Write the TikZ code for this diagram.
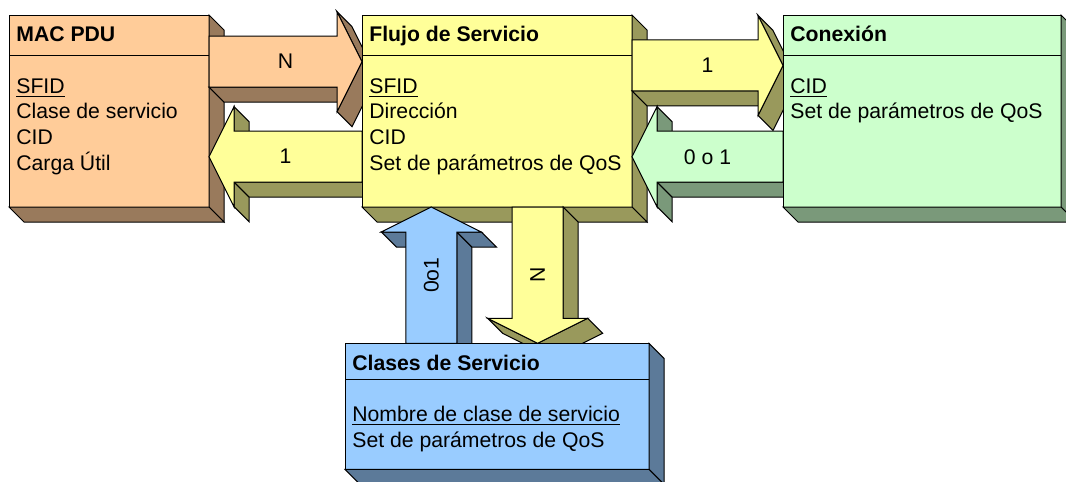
\documentclass[tikz,border=0pt]{standalone}
\usepackage{fontspec}
\setmainfont{Liberation Sans}
\usetikzlibrary{calc}

\definecolor{macfront}{HTML}{FFCC99}
\definecolor{macside}{HTML}{997A5C}
\definecolor{flowfront}{HTML}{FFFF99}
\definecolor{flowside}{HTML}{99995C}
\definecolor{connfront}{HTML}{CCFFCC}
\definecolor{connside}{HTML}{7A997A}
\definecolor{clsfront}{HTML}{99CCFF}
\definecolor{clsside}{HTML}{5C7A99}

\newcommand{\mainsize}{\fontsize{10.6}{12.8}\selectfont}

% box: node, front colour, side colour, header line
\newcommand{\solidbox}[4]{%
  \draw[face, fill=#2] (#1.north west) rectangle (#1.south east);
  \draw[face, fill=#3] (#1.north east) -- ++(15,15) -- ($(#1.south east)+(15,15)$) -- (#1.south east) -- cycle;
  \draw[face, fill=#3] (#1.south west) -- ++(15,15) -- ($(#1.south east)+(15,15)$) -- (#1.south east) -- cycle;
  \draw[face] ($(#1.north west)+(0,#4)$) -- ($(#1.north east)+(0,#4)$);
}
\newcommand{\boxtext}[3]{%
  \node[txt, font=\mainsize\bfseries] (#1-title) at ($(#1.north west)+(7,26.7)$) {#2};
  \foreach \s [count=\i] in {#3}
    \node[txt] (#1-\i) at ($(#1.north west)+(7,{78+25.7*(\i-1)})$) {\s};
}

% block arrows: tail, tip, front colour, side colour, label name, label
\newcommand{\blockright}[6]{%
  \coordinate (t) at (#1);
  \coordinate (h) at (#2);
  \draw[face, fill=#4] ($(t)+(0,25.5)$) -- ($(h)+(-25,25.5)$) -- ++(15,15) -- ($(t)+(15,40.5)$) -- cycle;
  \draw[face, fill=#4] ($(h)+(-25,-50)$) -- (h) -- ++(15,15) -- ($(h)+(-10,-35)$) -- cycle;
  \draw[face, fill=#4] (h) -- ($(h)+(-25,50)$) -- ++(15,15) -- ($(h)+(15,15)$) -- cycle;
  \draw[face, fill=#3] ($(t)+(0,-25.5)$) -- ($(h)+(-25,-25.5)$) -- ($(h)+(-25,-50)$) -- (h)
    -- ($(h)+(-25,50)$) -- ($(h)+(-25,25.5)$) -- ($(t)+(0,25.5)$) -- cycle;
  \node[lbl] (#5) at ($(t)!0.5!(h)$) {#6};
}
\newcommand{\blockleft}[6]{%
  \coordinate (t) at (#1);
  \coordinate (h) at (#2);
  \draw[face, fill=#4] ($(h)+(25,25.5)$) -- ($(t)+(0,25.5)$) -- ++(15,15) -- ($(h)+(40,40.5)$) -- cycle;
  \draw[face, fill=#4] ($(h)+(25,25.5)$) -- ($(h)+(25,50)$) -- ++(15,15) -- ($(h)+(40,40.5)$) -- cycle;
  \draw[face, fill=#4] ($(h)+(25,-50)$) -- ($(h)+(25,-25.5)$) -- ++(15,15) -- ($(h)+(40,-35)$) -- cycle;
  \draw[face, fill=#3] ($(t)+(0,-25.5)$) -- ($(h)+(25,-25.5)$) -- ($(h)+(25,-50)$) -- (h)
    -- ($(h)+(25,50)$) -- ($(h)+(25,25.5)$) -- ($(t)+(0,25.5)$) -- cycle;
  \node[lbl] (#5) at ($(t)!0.5!(h)$) {#6};
}
\newcommand{\blockup}[6]{%
  \coordinate (t) at (#1);
  \coordinate (h) at (#2);
  \draw[face, fill=#4] ($(h)+(25.5,25)$) -- ($(t)+(25.5,0)$) -- ++(15,15) -- ($(h)+(40.5,40)$) -- cycle;
  \draw[face, fill=#4] ($(h)+(-50,25)$) -- ($(h)+(-25.5,25)$) -- ++(15,15) -- ($(h)+(-35,40)$) -- cycle;
  \draw[face, fill=#4] ($(h)+(25.5,25)$) -- ($(h)+(50,25)$) -- ++(15,15) -- ($(h)+(40.5,40)$) -- cycle;
  \draw[face, fill=#3] ($(t)+(-25.5,0)$) -- ($(h)+(-25.5,25)$) -- ($(h)+(-50,25)$) -- (h)
    -- ($(h)+(50,25)$) -- ($(h)+(25.5,25)$) -- ($(t)+(25.5,0)$) -- cycle;
  \node[lbl, rotate=90] (#5) at ($(t)!0.5!(h)$) {#6};
}
\newcommand{\blockdown}[6]{%
  \coordinate (t) at (#1);
  \coordinate (h) at (#2);
  \draw[face, fill=#4] ($(t)+(25.5,0)$) -- ($(h)+(25.5,-25)$) -- ++(15,15) -- ($(t)+(40.5,15)$) -- cycle;
  \draw[face, fill=#4] ($(h)+(-50,-25)$) -- (h) -- ++(15,15) -- ($(h)+(-35,-10)$) -- cycle;
  \draw[face, fill=#4] (h) -- ($(h)+(50,-25)$) -- ++(15,15) -- ($(h)+(15,15)$) -- cycle;
  \draw[face, fill=#3] ($(t)+(-25.5,0)$) -- ($(h)+(-25.5,-25)$) -- ($(h)+(-50,-25)$) -- (h)
    -- ($(h)+(50,-25)$) -- ($(h)+(25.5,-25)$) -- ($(t)+(25.5,0)$) -- cycle;
  \node[lbl, rotate=90] (#5) at ($(t)!0.5!(h)$) {#6};
}

\begin{document}
\begin{tikzpicture}[x=0.5pt,y=-0.5pt,
    face/.style={draw=black, line width=0.5pt},
    frame/.style={anchor=north west, inner sep=0pt, outer sep=0pt},
    txt/.style={inner sep=0pt, anchor=base west, font=\mainsize},
    lbl/.style={inner sep=0pt, font=\mainsize}]
  \path[use as bounding box, clip] (0,0) rectangle (1066,482);

  % layout of the four entities
  \node[frame, minimum width=100pt, minimum height=96pt] (mac) at (9,15) {};
  \node[frame, minimum width=135pt, minimum height=96pt] (flow) at (362,15) {};
  \node[frame, minimum width=139pt, minimum height=96pt] (conn) at (783,15) {};
  \node[frame, minimum width=152pt, minimum height=63pt] (cls) at (345,343.3) {};

  \solidbox{mac}{macfront}{macside}{40}
  \boxtext{mac}{MAC PDU}{\underline{SFID}, Clase de servicio, CID, Carga Útil}

  \blockright{$(mac.north east)+(0,46.7)$}{$(flow.north west)+(0,46.7)$}{macfront}{macside}{mac-flow}{N}
  \blockleft{$(flow.north west)+(0,141.7)$}{$(mac.north east)+(0,141.7)$}{flowfront}{flowside}{flow-mac}{1}

  \solidbox{flow}{flowfront}{flowside}{40}
  \boxtext{flow}{Flujo de Servicio}{\underline{SFID}, Dirección, CID, Set de parámetros de QoS}

  \blockright{$(flow.north east)+(0,50.4)$}{$(conn.north west)+(0,50.4)$}{flowfront}{flowside}{flow-conn}{1}
  \blockleft{$(conn.north west)+(0,141.7)$}{$(flow.north east)+(0,141.7)$}{connfront}{connside}{conn-flow}{0 o 1}
  \blockup{$(cls.north west)+(86.3,0)$}{$(flow.south west)+(69.3,0)$}{clsfront}{clsside}{cls-flow}{0o1}
  \blockdown{$(flow.south west)+(175.7,0)$}{$(cls.north west)+(192.7,0)$}{flowfront}{flowside}{flow-cls}{N}

  \solidbox{conn}{connfront}{connside}{40}
  \boxtext{conn}{Conexión}{\underline{CID}, Set de parámetros de QoS}

  \solidbox{cls}{clsfront}{clsside}{36}
  \boxtext{cls}{Clases de Servicio}{\underline{Nombre de clase de servicio}, Set de parámetros de QoS}
\end{tikzpicture}
\end{document}
